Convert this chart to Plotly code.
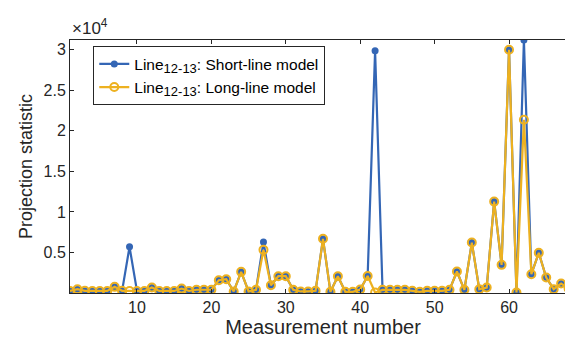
import plotly.graph_objects as go

measurement = list(range(1, 70))
long_line = [250, 470, 270, 250, 250, 250, 760, 270, 250, 250,
             250, 680, 250, 250, 250, 550, 250, 400, 400, 400,
             1580, 1700, 190, 2610, 190, 400, 5320, 960, 2070, 2070,
             390, 190, 190, 270, 6680, 150, 2070, 150, 150, 430,
             2100, 60, 390, 390, 390, 390, 270, 150, 270, 270,
             270, 390, 2650, 390, 6220, 470, 680, 11270, 3470, 30000,
             60, 21370, 2320, 4950, 1910, 470, 1170, 550, 550]
short_line = list(long_line)
short_line[8] = 5690
short_line[26] = 6300
short_line[41] = 29870
short_line[61] = 31200

ytick_vals = [5000, 10000, 15000, 20000, 25000, 30000]
ytick_text = ["0.5", "1", "1.5", "2", "2.5", "3"]
xtick_vals = [10, 20, 30, 40, 50, 60]

BLUE = "#3466B5"
YELLOW = "#EDB120"
AX = "#262626"
FONT = "Liberation Sans, Arial"

sub = '<sub><span style="font-size:13px">12-13</span></sub>'

fig = go.Figure()
fig.add_trace(go.Scatter(
    x=measurement, y=short_line, mode="lines+markers",
    name="Line" + sub + ": Short-line model",
    line=dict(color=BLUE, width=2.2),
    marker=dict(color=BLUE, size=7, symbol="circle"),
))
fig.add_trace(go.Scatter(
    x=measurement, y=long_line, mode="lines+markers",
    name="Line" + sub + ": Long-line model",
    line=dict(color=YELLOW, width=2.2),
    marker=dict(color=YELLOW, size=8, symbol="circle-open", line=dict(width=2, color=YELLOW)),
))

axis_common = dict(
    showgrid=False, zeroline=False, showline=True, linecolor=AX, linewidth=1,
    mirror="ticks", ticks="inside", ticklen=4, tickcolor=AX,
    tickfont=dict(family=FONT, size=16, color=AX),
)
fig.update_xaxes(range=[1, 69], tickvals=xtick_vals,
                 title=dict(text="Measurement number", standoff=2,
                            font=dict(family=FONT, size=20, color=AX)),
                 **axis_common)
fig.update_yaxes(range=[0, max(short_line)], tickvals=ytick_vals, ticktext=ytick_text,
                 title=dict(text="Projection statistic", standoff=6,
                            font=dict(family=FONT, size=18, color=AX)),
                 **axis_common)

fig.add_annotation(text="×10<sup>4</sup>", xref="paper", yref="paper", x=0, y=1,
                   xanchor="left", yanchor="bottom", showarrow=False, xshift=0, yshift=0,
                   font=dict(family=FONT, size=17, color=AX))

fig.update_layout(
    width=573, height=337,
    margin=dict(l=62, r=5, t=32, b=52),
    paper_bgcolor="white", plot_bgcolor="white",
    showlegend=True,
    legend=dict(x=0.046, y=0.975, xanchor="left", yanchor="top",
                bordercolor=AX, borderwidth=1, bgcolor="white",
                font=dict(family=FONT, size=15.5, color="black"),
                tracegroupgap=0, itemwidth=30),
)

fig.write_html("out.html")
